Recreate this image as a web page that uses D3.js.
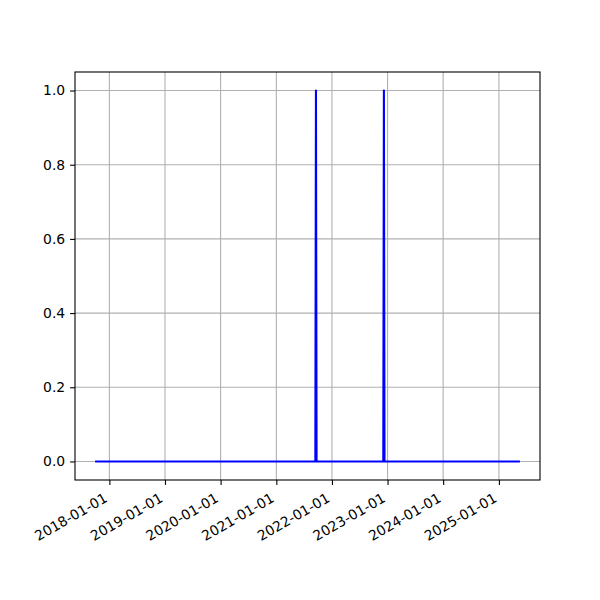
<!DOCTYPE html>
<html>
<head>
<meta charset="utf-8">
<script src="https://cdn.jsdelivr.net/npm/d3@7"></script>
<style>
html,body{margin:0;padding:0;background:#fff;}
text{font-family:"DejaVu Sans",sans-serif;}
</style>
</head>
<body>
<svg id="chart" width="600" height="600"></svg>
<script>
// Data (sample points of the series)
const dates = ["2017-10-06","2021-09-14","2021-09-18","2021-09-22","2022-12-04","2022-12-08","2022-12-12","2025-05-12"];
const values = [0,0,1,0,0,1,0,0];
const xTickLabels = ["2018-01-01","2019-01-01","2020-01-01","2021-01-01","2022-01-01","2023-01-01","2024-01-01","2025-01-01"];
const yTicks = [0.0,0.2,0.4,0.6,0.8,1.0];

const parse = d3.timeParse("%Y-%m-%d");
const data = dates.map((d,i)=>({date:parse(d), value:values[i]}));

const svg = d3.select("#chart");
const L=75, R=540, T=72, B=480;

const ext = d3.extent(data, d=>d.date);
const span = ext[1]-ext[0];
const x = d3.scaleTime()
  .domain([new Date(+ext[0]-0.05*span), new Date(+ext[1]+0.05*span)])
  .range([L,R]);
const ymin = d3.min(values), ymax = d3.max(values), ys = ymax-ymin;
const y = d3.scaleLinear().domain([ymin-0.05*ys, ymax+0.05*ys]).range([B,T]);

const xTicks = xTickLabels.map(parse);

// grid
const grid = svg.append("g");
grid.selectAll("line.gx").data(xTicks).enter().append("line")
  .attr("x1",d=>x(d)).attr("x2",d=>x(d)).attr("y1",T).attr("y2",B)
  .attr("stroke","#b0b0b0").attr("stroke-width",1.1);
grid.selectAll("line.gy").data(yTicks).enter().append("line")
  .attr("x1",L).attr("x2",R).attr("y1",d=>y(d)).attr("y2",d=>y(d))
  .attr("stroke","#b0b0b0").attr("stroke-width",1.1);

// line
const line = d3.line().x(d=>x(d.date)).y(d=>y(d.value));
svg.append("path").datum(data)
  .attr("d",line).attr("fill","none").attr("stroke","#0000ff")
  .attr("stroke-width",2.1).attr("stroke-linejoin","round").attr("stroke-linecap","square");

// axes
const xAxis = d3.axisBottom(x).tickValues(xTicks).tickFormat(d3.timeFormat("%Y-%m-%d"))
  .tickSizeInner(4.9).tickSizeOuter(0).tickPadding(4.9);
const gx = svg.append("g").attr("transform",`translate(0,${B})`).call(xAxis);
gx.select(".domain").remove();
gx.selectAll(".tick line").attr("stroke","#000").attr("stroke-width",1.1);
gx.selectAll(".tick text")
  .attr("font-size",13.9).attr("fill","#000")
  .attr("text-anchor","end").attr("y",null).attr("dy",null)
  .attr("transform","translate(-1.6,20.9) rotate(-30)");

const yAxis = d3.axisLeft(y).tickValues(yTicks).tickFormat(d3.format(".1f"))
  .tickSizeInner(4.9).tickSizeOuter(0).tickPadding(4.9);
const gy = svg.append("g").attr("transform",`translate(${L},0)`).call(yAxis);
gy.select(".domain").remove();
gy.selectAll(".tick line").attr("stroke","#000").attr("stroke-width",1.1);
gy.selectAll(".tick text").attr("font-size",13.9).attr("fill","#000");

// frame
svg.append("rect").attr("x",L).attr("y",T).attr("width",R-L).attr("height",B-T)
  .attr("fill","none").attr("stroke","#000").attr("stroke-width",1.1);
</script>
</body>
</html>
